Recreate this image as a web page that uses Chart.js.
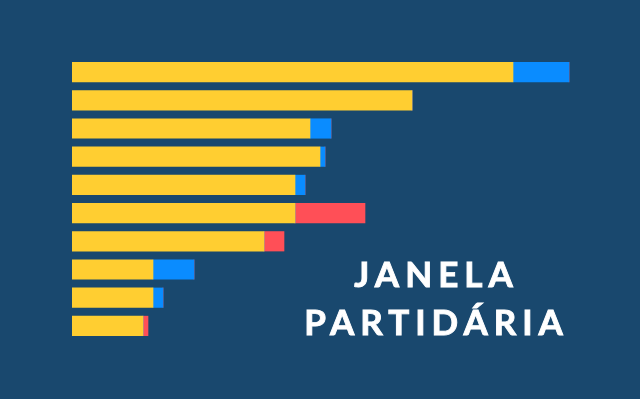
<!DOCTYPE html>
<html>
<head>
<meta charset="utf-8">
<script src="https://cdn.jsdelivr.net/npm/chart.js@4"></script>
<style>
  html, body { margin: 0; padding: 0; background: #19486e; }
  .wrap { position: relative; width: 640px; height: 399px; }
  #chart { position: absolute; left: 0; top: 0; }
  .title {
    position: absolute; left: 290px; width: 281px; top: 249px; padding-left: 6px;
    color: #ffffff; font-family: Lato, "Open Sans", sans-serif; font-weight: 700;
    font-size: 35px; line-height: 48px; letter-spacing: 6px; text-align: center;
    -webkit-text-stroke: 0.9px #ffffff;
  }
</style>
</head>
<body>
<div class="wrap">
  <canvas id="chart" width="640" height="399"></canvas>
  <div class="title">JANELA<br>PARTIDÁRIA</div>
</div>
<script>
// Data
const categories = ["1", "2", "3", "4", "5", "6", "7", "8", "9", "10"];
const yellowValues = [44.1, 34.0, 23.8, 24.8, 22.3, 22.3, 19.2, 8.1, 8.1, 7.1];
const blueValues = [5.6, 0, 2.1, 0.5, 1.0, 0, 0, 4.1, 1.0, 0];
const redValues = [0, 0, 0, 0, 0, 7.0, 2.0, 0, 0, 0.5];

const ctx = document.getElementById('chart').getContext('2d');

new Chart(ctx, {
    type: 'bar',
    data: {
        labels: categories,
        datasets: [
            { data: yellowValues, backgroundColor: '#ffce31' },
            { data: blueValues, backgroundColor: '#0a8cff' },
            { data: redValues, backgroundColor: '#ff4f57' }
        ]
    },
    options: {
        indexAxis: 'y',
        responsive: false,
        animation: false,
        layout: { padding: { left: 72, right: 68, top: 58, bottom: 59 } },
        datasets: { bar: { barThickness: 19.5, borderWidth: 0 } },
        plugins: {
            legend: { display: false },
            tooltip: { enabled: false }
        },
        scales: {
            x: { stacked: true, display: false, min: 0, max: 50 },
            y: { stacked: true, display: false }
        }
    }
});
</script>
</body>
</html>
